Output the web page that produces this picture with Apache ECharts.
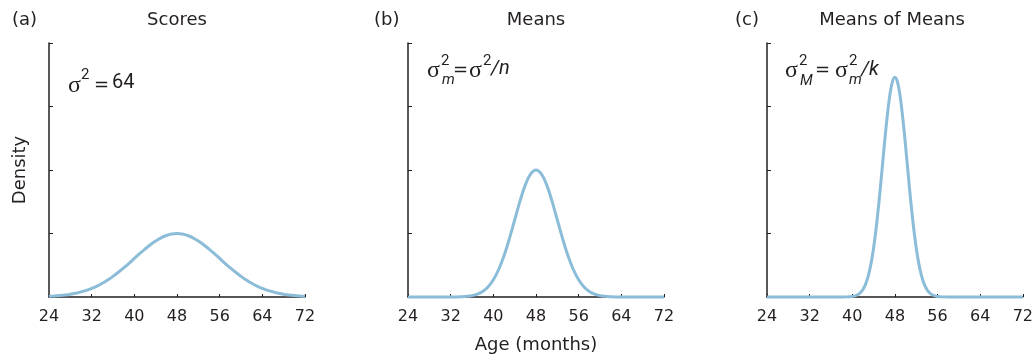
<!DOCTYPE html>
<html><head><meta charset="utf-8">
<script src="https://cdn.jsdelivr.net/npm/echarts@6/dist/echarts.min.js"></script>
<style>html,body{margin:0;padding:0;background:#fff}#c{width:1036px;height:358px}</style>
</head><body><div id="c"></div><script>
// ---- data ----
const panelTitles = ['Scores', 'Means', 'Means of Means'];
const panelLetters = ['(a)', '(b)', '(c)'];
const xTicks = [24, 32, 40, 48, 56, 64, 72];
const xScores = [24,25,26,27,28,29,30,31,32,33,34,35,36,37,38,39,40,41,42,43,44,45,46,47,48,49,50,51,52,53,54,55,56,57,58,59,60,61,62,63,64,65,66,67,68,69,70,71,72];
const yScores = [0.011,0.016,0.023,0.032,0.044,0.060,0.080,0.105,0.135,0.172,0.216,0.267,0.325,0.389,0.458,0.531,0.607,0.682,0.755,0.823,0.882,0.932,0.969,0.992,1.000,0.992,0.969,0.932,0.882,0.823,0.755,0.682,0.607,0.531,0.458,0.389,0.325,0.267,0.216,0.172,0.135,0.105,0.080,0.060,0.044,0.032,0.023,0.016,0.011];
const xMeans = xScores;
const yMeans = [0,0,0,0,0,0,0,0,0,0.001,0.004,0.010,0.022,0.046,0.088,0.159,0.271,0.433,0.649,0.916,1.213,1.510,1.765,1.938,2.000,1.938,1.765,1.510,1.213,0.916,0.649,0.433,0.271,0.159,0.088,0.046,0.022,0.010,0.004,0.001,0,0,0,0,0,0,0,0,0];
const xMoM = [24,28,32,36,38,39,40,40.5,41,41.5,42,42.5,43,43.5,44,44.5,45,45.5,46,46.5,47,47.5,48,48.5,49,49.5,50,50.5,51,51.5,52,52.5,53,53.5,54,54.5,55,55.5,56,57,58,60,64,68,72];
const yMoM = [0,0,0,0,0,0.002,0.009,0.018,0.035,0.066,0.119,0.203,0.332,0.518,0.772,1.098,1.488,1.926,2.378,2.802,3.150,3.380,3.460,3.380,3.150,2.802,2.378,1.926,1.488,1.098,0.772,0.518,0.332,0.203,0.119,0.066,0.035,0.018,0.009,0.002,0,0,0,0,0];

// ---- chart ----
const FONT = 'DejaVu Sans';
const EQF = 'Roboto';
const INK = '#231f20';
const CURVE = '#8bbcd8';
const gridLefts = [49, 408, 767];
const xs = [xScores, xMeans, xMoM];
const ys = [yScores, yMeans, yMoM];

const chart = echarts.init(document.getElementById('c'), null, {renderer: 'canvas'});

const grid = gridLefts.map(l => ({left: l, top: 43, width: 256, height: 254}));
const xAxis = gridLefts.map((l, i) => ({
  type: 'value', gridIndex: i, min: xTicks[0], max: xTicks[xTicks.length - 1], interval: xTicks[1] - xTicks[0],
  axisLine: {lineStyle: {color: INK, width: 1.5}},
  axisTick: {inside: true, length: 3, lineStyle: {color: INK, width: 1}},
  axisLabel: {margin: 12, fontSize: 16, color: INK, fontFamily: FONT},
  splitLine: {show: false}
}));
const yAxis = gridLefts.map((l, i) => ({
  type: 'value', gridIndex: i, min: 0, max: 4, interval: 1,
  axisLine: {show: true, lineStyle: {color: INK, width: 1.5}},
  axisTick: {show: true, inside: true, length: 4, lineStyle: {color: INK, width: 1}},
  axisLabel: {show: false},
  splitLine: {show: false}
}));
const series = xs.map((xv, i) => ({
  type: 'line', xAxisIndex: i, yAxisIndex: i, showSymbol: false, smooth: 0.4, clip: false,
  lineStyle: {color: CURVE, width: 3},
  data: xv.map((x, k) => [x, ys[i][k]])
}));

function txt(t, x, y, o) {
  o = o || {};
  return {type: 'text', x: x, y: y, rotation: o.rot || 0, z: 10,
    style: {text: t, fill: INK, fontSize: o.size || 18, fontFamily: o.font || FONT,
      fontStyle: o.italic ? 'italic' : 'normal',
      align: o.align || 'left', verticalAlign: o.va || 'middle'}};
}
const centers = [177, 536, 892];
const letterX = [12, 374, 735];
const graphic = [];
panelTitles.forEach((t, i) => {
  graphic.push(txt(t, centers[i], 20, {align: 'center'}));
  graphic.push(txt(panelLetters[i], letterX[i], 20));
});
graphic.push(txt('Density', 20, 170, {align: 'center', rot: Math.PI / 2}));
graphic.push(txt('Age (months)', 536, 345, {align: 'center'}));

const SIG = {size: 24, font: 'Liberation Serif'};
const SUP = {size: 15, font: EQF};
const SUB = {size: 15, font: EQF, italic: true};
const MAIN = {size: 20, font: EQF};
const MAINI = {size: 20, font: EQF, italic: true};
const EQ = {size: 18, font: 'DejaVu Sans'};
// panel a
graphic.push(txt('σ', 68, 85.5, SIG));
graphic.push(txt('2', 81, 75, SUP));
graphic.push(txt('=', 94, 85, EQ));
graphic.push(txt('64', 112, 83, MAIN));
// panel b
graphic.push(txt('σ', 427, 70.5, SIG));
graphic.push(txt('2', 441, 61, SUP));
graphic.push(txt('m', 442, 80, SUB));
graphic.push(txt('=', 453, 70.5, EQ));
graphic.push(txt('σ', 469, 70.5, SIG));
graphic.push(txt('2', 483, 61, SUP));
graphic.push(txt('/n', 491, 69, MAINI));
// panel c
graphic.push(txt('σ', 785, 70.5, SIG));
graphic.push(txt('2', 799, 61, SUP));
graphic.push(txt('M', 800, 81, SUB));
graphic.push(txt('=', 815, 70.5, EQ));
graphic.push(txt('σ', 835, 70.5, SIG));
graphic.push(txt('2', 849, 61, SUP));
graphic.push(txt('m', 849, 80, SUB));
graphic.push(txt('/k', 861, 70, MAINI));

chart.setOption({
  backgroundColor: '#fff',
  animation: false,
  grid, xAxis, yAxis, series, graphic
});
</script></body></html>
